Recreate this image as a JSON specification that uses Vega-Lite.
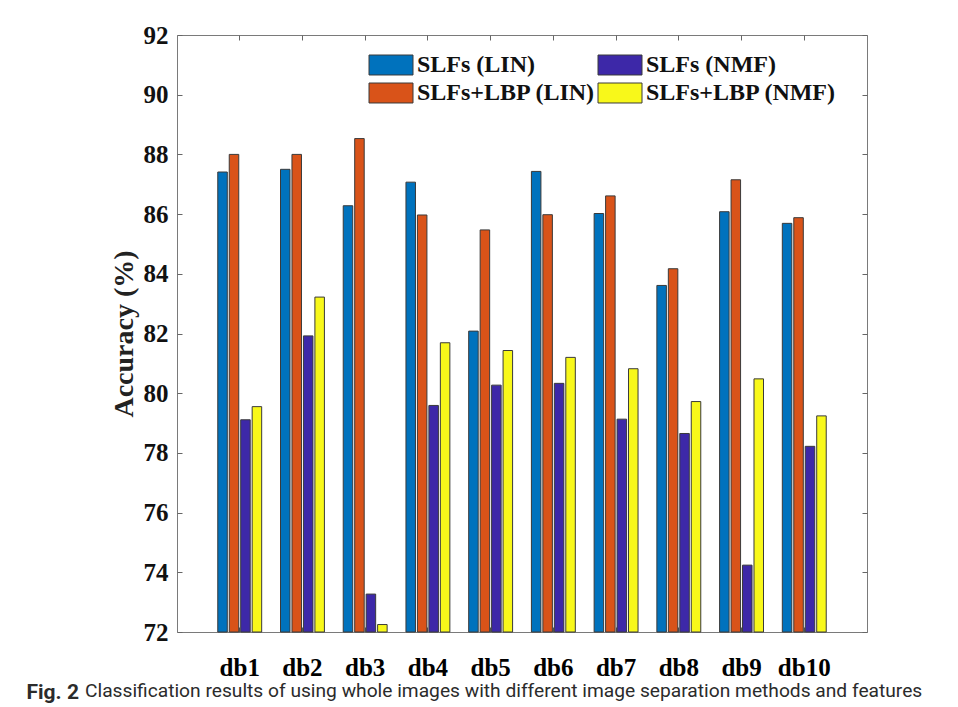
{
  "$schema": "https://vega.github.io/schema/vega-lite/v6.json",
  "width": 690,
  "height": 597,
  "autosize": {"type": "none"},
  "padding": {"left": 177, "top": 35, "right": 91, "bottom": 75},
  "background": "white",
  "title": {
    "text": "Classification results of using whole images with different image separation methods and features",
    "orient": "top", "anchor": "start", "frame": "group", "offset": 0, "baseline": "alphabetic",
    "dx": -92, "dy": 693, "font": "Roboto", "fontWeight": "normal", "fontSize": 19.2, "color": "#2b2b2b"
  },
  "data": {
    "values": [
      {"db": "db1", "method": "SLFs (LIN)", "acc": 87.41},
      {"db": "db1", "method": "SLFs+LBP (LIN)", "acc": 88.0},
      {"db": "db1", "method": "SLFs (NMF)", "acc": 79.11},
      {"db": "db1", "method": "SLFs+LBP (NMF)", "acc": 79.55},
      {"db": "db2", "method": "SLFs (LIN)", "acc": 87.5},
      {"db": "db2", "method": "SLFs+LBP (LIN)", "acc": 88.0},
      {"db": "db2", "method": "SLFs (NMF)", "acc": 81.92},
      {"db": "db2", "method": "SLFs+LBP (NMF)", "acc": 83.22},
      {"db": "db3", "method": "SLFs (LIN)", "acc": 86.28},
      {"db": "db3", "method": "SLFs+LBP (LIN)", "acc": 88.53},
      {"db": "db3", "method": "SLFs (NMF)", "acc": 73.27},
      {"db": "db3", "method": "SLFs+LBP (NMF)", "acc": 72.25},
      {"db": "db4", "method": "SLFs (LIN)", "acc": 87.07},
      {"db": "db4", "method": "SLFs+LBP (LIN)", "acc": 85.97},
      {"db": "db4", "method": "SLFs (NMF)", "acc": 79.59},
      {"db": "db4", "method": "SLFs+LBP (NMF)", "acc": 81.69},
      {"db": "db5", "method": "SLFs (LIN)", "acc": 82.08},
      {"db": "db5", "method": "SLFs+LBP (LIN)", "acc": 85.47},
      {"db": "db5", "method": "SLFs (NMF)", "acc": 80.27},
      {"db": "db5", "method": "SLFs+LBP (NMF)", "acc": 81.43},
      {"db": "db6", "method": "SLFs (LIN)", "acc": 87.43},
      {"db": "db6", "method": "SLFs+LBP (LIN)", "acc": 85.98},
      {"db": "db6", "method": "SLFs (NMF)", "acc": 80.33},
      {"db": "db6", "method": "SLFs+LBP (NMF)", "acc": 81.2},
      {"db": "db7", "method": "SLFs (LIN)", "acc": 86.02},
      {"db": "db7", "method": "SLFs+LBP (LIN)", "acc": 86.61},
      {"db": "db7", "method": "SLFs (NMF)", "acc": 79.13},
      {"db": "db7", "method": "SLFs+LBP (NMF)", "acc": 80.82},
      {"db": "db8", "method": "SLFs (LIN)", "acc": 83.61},
      {"db": "db8", "method": "SLFs+LBP (LIN)", "acc": 84.17},
      {"db": "db8", "method": "SLFs (NMF)", "acc": 78.65},
      {"db": "db8", "method": "SLFs+LBP (NMF)", "acc": 79.72},
      {"db": "db9", "method": "SLFs (LIN)", "acc": 86.08},
      {"db": "db9", "method": "SLFs+LBP (LIN)", "acc": 87.15},
      {"db": "db9", "method": "SLFs (NMF)", "acc": 74.24},
      {"db": "db9", "method": "SLFs+LBP (NMF)", "acc": 80.48},
      {"db": "db10", "method": "SLFs (LIN)", "acc": 85.69},
      {"db": "db10", "method": "SLFs+LBP (LIN)", "acc": 85.88},
      {"db": "db10", "method": "SLFs (NMF)", "acc": 78.22},
      {"db": "db10", "method": "SLFs+LBP (NMF)", "acc": 79.24}
    ]
  },
  "resolve": {"axis": {"x": "independent", "y": "independent"}},
  "layer": [
    {
      "mark": {"type": "bar", "stroke": "#3a3a3a", "strokeWidth": 1, "opacity": 1},
      "encoding": {
        "x": {
          "field": "db", "type": "nominal", "sort": null,
          "scale": {"paddingInner": 0.3, "paddingOuter": 0.65},
          "axis": {
            "orient": "bottom", "labelAngle": 0, "bandPosition": 0.5,
            "labelFont": "Liberation Serif", "labelFontWeight": "bold", "labelFontSize": 25, "labelColor": "black",
            "labelPadding": 28, "ticks": true, "tickSize": -5, "tickColor": "#555", "domain": false,
            "title": "Fig. 2", "titleFont": "Roboto",
            "titleFontWeight": "bold", "titleFontSize": 21, "titleColor": "#2b2b2b",
            "titleX": -151, "titleY": 66, "titleAlign": "left", "titleBaseline": "alphabetic", "titleAnchor": "start"
          }
        },
        "xOffset": {
          "field": "method", "type": "nominal",
          "sort": ["SLFs (LIN)", "SLFs+LBP (LIN)", "SLFs (NMF)", "SLFs+LBP (NMF)"],
          "scale": {"paddingInner": 0.17, "paddingOuter": 0}
        },
        "y": {
          "field": "acc", "type": "quantitative",
          "scale": {"domain": [72, 92], "nice": false, "zero": false},
          "axis": {
            "orient": "left", "values": [72, 74, 76, 78, 80, 82, 84, 86, 88, 90, 92], "grid": false,
            "labelFont": "Liberation Serif", "labelFontWeight": "bold", "labelFontSize": 25, "labelColor": "#111",
            "labelPadding": 14, "tickSize": -5, "tickColor": "#666", "domain": false,
            "title": "Accuracy (%)", "titleFont": "Liberation Serif", "titleFontWeight": "bold", "titleFontSize": 28,
            "titleColor": "#222", "titlePadding": 5
          }
        },
        "y2": {"datum": 72},
        "color": {
          "field": "method", "type": "nominal",
          "scale": {
            "domain": ["SLFs (LIN)", "SLFs (NMF)", "SLFs+LBP (LIN)", "SLFs+LBP (NMF)"],
            "range": ["#0072BD", "#3D28A8", "#D95319", "#F8F81A"]
          },
          "legend": {
            "orient": "none", "legendX": 202, "legendY": 18, "columns": 2, "direction": "horizontal",
            "title": null, "padding": 0,
            "symbolType": "M-2,-0.909H2V0.909H-2Z", "symbolSize": 484, "symbolStrokeColor": "#3a3a3a",
            "symbolStrokeWidth": 1, "symbolOpacity": 1,
            "labelFont": "Liberation Serif", "labelFontWeight": "bold", "labelFontSize": 24, "labelColor": "#111",
            "labelOffset": 14, "columnPadding": 0, "rowPadding": 4, "labelLimit": 400
          }
        }
      }
    },
    {
      "mark": {"type": "bar", "opacity": 0},
      "encoding": {
        "x": {
          "field": "db", "type": "nominal", "sort": null,
          "axis": {
            "orient": "top", "labels": false, "bandPosition": 0.5, "ticks": true, "tickSize": -5, "tickColor": "#666",
            "domain": false, "title": null
          }
        },
        "xOffset": {
          "field": "method", "type": "nominal",
          "sort": ["SLFs (LIN)", "SLFs+LBP (LIN)", "SLFs (NMF)", "SLFs+LBP (NMF)"]
        },
        "y": {
          "field": "acc", "type": "quantitative",
          "axis": {
            "orient": "right", "values": [72, 74, 76, 78, 80, 82, 84, 86, 88, 90, 92], "labels": false, "grid": false,
            "tickSize": -5, "tickColor": "#666", "domain": false, "title": null
          }
        },
        "y2": {"datum": 72}
      }
    }
  ],
  "config": {"view": {"stroke": "#7a7a7a", "strokeWidth": 1}}
}
